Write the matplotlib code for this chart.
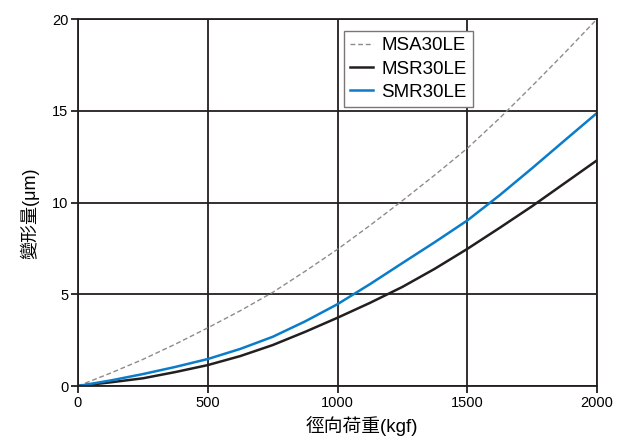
import matplotlib
matplotlib.use("Agg")
import matplotlib.pyplot as plt

load = [0, 125, 250, 375, 500, 625, 750, 875, 1000, 1125, 1250, 1375, 1500, 1625, 1750, 1875, 2000]
msa30le = [0, 0.7, 1.45, 2.28, 3.17, 4.1, 5.1, 6.25, 7.45, 8.75, 10.1, 11.5, 12.95, 14.6, 16.35, 18.15, 20.0]
msr30le = [0, 0.2, 0.42, 0.76, 1.14, 1.63, 2.23, 2.95, 3.72, 4.53, 5.4, 6.39, 7.47, 8.62, 9.8, 11.05, 12.3]
smr30le = [0, 0.3, 0.65, 1.04, 1.47, 2.02, 2.68, 3.52, 4.46, 5.55, 6.7, 7.84, 9.02, 10.4, 11.87, 13.38, 14.88]
xticks = [0, 500, 1000, 1500, 2000]
yticks = [0, 5, 10, 15, 20]

plt.rcParams['font.family'] = ['Liberation Sans', 'Noto Sans CJK TC', 'DejaVu Sans']
dark = '#231f20'

fig = plt.figure(figsize=(6.26, 4.38), dpi=100)
ax = fig.add_axes([0.1246, 0.1187, 0.8291, 0.8379])

ax.plot(load, msa30le, color='#8c8c8c', lw=1.0, ls=(0, (3.5, 2)), label='MSA30LE')
ax.plot(load, msr30le, color=dark, lw=1.8, label='MSR30LE')
ax.plot(load, smr30le, color='#0a7cc9', lw=1.8, label='SMR30LE')

ax.set_xlim(0, 2000)
ax.set_ylim(0, 20)
ax.set_xticks(xticks)
ax.set_yticks(yticks)
ax.grid(True, color=dark, lw=1.3)
ax.set_axisbelow(True)
for s in ax.spines.values():
    s.set_color(dark)
    s.set_linewidth(1.3)
ax.tick_params(direction='out', length=5, width=1.3, color=dark, labelsize=10.5, pad=2)
ax.set_xlabel('徑向荷重(kgf)', fontsize=13.5)
ax.xaxis.set_label_coords(0.547, -0.082)
ax.set_ylabel('變形量(μm)', fontsize=13, va='center')
ax.yaxis.set_label_coords(-0.094, 0.471)

leg = ax.legend(loc='upper left', bbox_to_anchor=(0.512, 0.968), fontsize=13.5,
                frameon=True, fancybox=False, edgecolor='#777777', framealpha=1,
                handlelength=1.2, handletextpad=0.45, borderpad=0.35, labelspacing=0.32,
                borderaxespad=0)
leg.get_frame().set_linewidth(1.0)

fig.savefig('out.png', dpi=100)
